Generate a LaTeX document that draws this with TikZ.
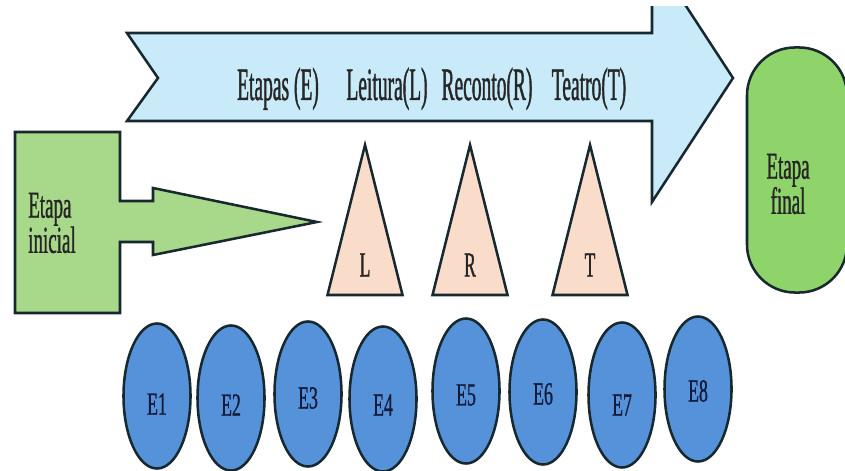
\documentclass[tikz,border=0pt]{standalone}
\usepackage{xcolor}
\usepackage{fontspec}
\setmainfont{Liberation Serif}
\newfontfamily\fonttopo[FakeStretch=0.42,FakeBold=0.8]{Liberation Serif}
\newfontfamily\fontbloco[FakeStretch=0.5,FakeBold=0.8]{Liberation Serif}
\newfontfamily\fontrotulo[FakeStretch=0.55,FakeBold=0.8]{Liberation Serif}
\usepackage{tikz}
\usetikzlibrary{shapes.geometric}
\definecolor{linha}{HTML}{17282F}
\definecolor{faixa}{HTML}{C9EBF9}
\definecolor{verdeA}{HTML}{A8D88A}
\definecolor{verdeB}{HTML}{8FD46B}
\definecolor{pele}{HTML}{FADCCB}
\definecolor{bolha}{HTML}{5592DA}
\definecolor{tinta}{HTML}{141B3A}

\begin{document}
\begin{tikzpicture}[x=0.025cm,y=-0.025cm,line width=1.8pt,
	contorno/.style={draw=linha,line join=miter},
	etapa/.style={draw=linha,fill=bolha,ellipse,minimum width=1.675cm,minimum height=3.625cm,inner sep=0pt},
	rotulo/.style={font=\fontrotulo\fontsize{23pt}{25pt}\selectfont,text=tinta,inner sep=0pt},
	topo/.style={font=\fonttopo\fontsize{33pt}{35pt}\selectfont,text=black!85,inner sep=0pt,anchor=base},
	tri/.style={font=\fontbloco\fontsize{25pt}{27pt}\selectfont,text=black!85,inner sep=0pt},
	bloco/.style={font=\fontbloco\fontsize{27pt}{25pt}\selectfont,text=black!85,inner sep=0pt}]
	\useasboundingbox (0,0) rectangle (845,471);
	\begin{scope}
		\clip (0,7) rectangle (845,471);
		\draw[contorno,fill=faixa] (127,33) -- (652,33) -- (652,-46) -- (733,78) -- (652,202) -- (652,121) -- (127,121) -- (158,78) -- cycle;
		\node[draw=linha,fill=verdeB,rounded corners=1.2cm,minimum width=2.5cm,minimum height=6.125cm] (fim) at (797,170) {};
	\end{scope}
	\node[bloco,align=center] (fimtxt) at (788,184) {Etapa\\final};
	\draw[contorno,fill=verdeA] (15,132) -- (120,132) -- (120,201) -- (153,201) -- (153,188) -- (317,222) -- (153,255) -- (153,242) -- (120,242) -- (120,313) -- (15,313) -- cycle;
	\node[bloco,align=left,anchor=west] (ini) at (27,223) {Etapa\\inicial};
	\node[topo] (te) at (278,100) {Etapas (E)};
	\node[topo] (tl) at (387,100) {Leitura(L)};
	\node[topo] (tr) at (487,100) {Reconto(R)};
	\node[topo] (tt) at (589,100) {Teatro(T)};
	\foreach \nome/\px/\letra in {pl/365/L,pr/470/R,pt/590/T} {
		\draw[contorno,fill=pele] (\px,145) -- (\px+37.5,295) -- (\px-37.5,295) -- cycle;
		\node[tri] (\nome) at (\px,265) {\letra};
	}
	\foreach \n/\px/\py/\ty in {1/157/396/404,2/231/398/405,3/308/394/398,4/383/399/405,5/466/391/395,6/543/392/394,7/622/395/405,8/698/389/391} {
		\node[etapa] (e\n) at (\px,\py) {};
		\node[rotulo] (r\n) at (\px,\ty) {E\n};
	}
\end{tikzpicture}
\end{document}
